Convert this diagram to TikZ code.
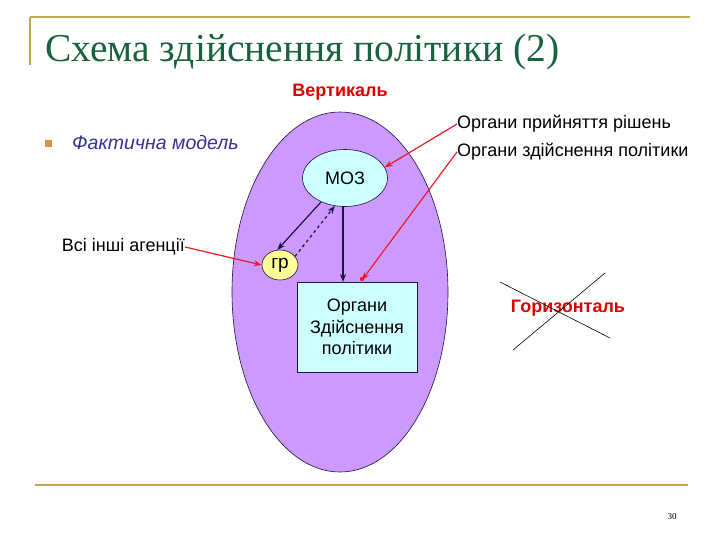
\documentclass[tikz,border=0pt]{standalone}
\usepackage{fontspec}
\setmainfont{Liberation Serif}
\setsansfont{Liberation Sans}
\usetikzlibrary{arrows.meta,shapes.geometric}
\definecolor{titlegreen}{RGB}{24,98,62}
\definecolor{goldline}{RGB}{196,168,80}
\definecolor{bigpurple}{RGB}{204,153,255}
\definecolor{lightcyan}{RGB}{204,255,255}
\definecolor{lightyellow}{RGB}{255,255,153}
\definecolor{labelred}{RGB}{220,0,0}
\definecolor{arrowred}{RGB}{230,30,40}
\definecolor{darkblue}{RGB}{51,51,153}
\definecolor{bulletorange}{RGB}{214,150,60}
\definecolor{darkarrow}{RGB}{30,20,60}
\tikzset{
  lbl/.style={font=\sffamily\fontsize{18}{20}\selectfont, inner sep=0pt, anchor=west},
  redlbl/.style={font=\sffamily\bfseries\fontsize{18}{20}\selectfont, text=labelred, inner sep=0pt},
  redarrow/.style={draw=arrowred, line width=1.2pt, -{Stealth[length=8pt,width=6pt]}},
  darkarr/.style={draw=darkarrow, line width=1.2pt, -{Stealth[length=8pt,width=6pt]}},
}
\begin{document}
\begin{tikzpicture}[x=1pt,y=-1pt]
\useasboundingbox (0,0) rectangle (720,540);
% frame lines
\draw[goldline, line width=1.2pt] (30,17) -- (690,17);
\draw[goldline, line width=1.2pt] (30,17) -- (30,65);
\draw[goldline, line width=2.5pt] (35,485) -- (688,485);
% title
\node[anchor=base west, inner sep=0pt, text=titlegreen, font=\fontsize{39.5}{44}\selectfont] (title) at (45,62) {Схема здійснення політики (2)};
% page number
\node[font=\fontsize{9}{10}\selectfont, inner sep=0pt] (pg) at (672,517) {30};
% vertical label
\node[redlbl] (vert) at (340,92) {Вертикаль};
% big ellipse
\node[ellipse, draw=darkarrow, line width=0.6pt, fill=bigpurple, minimum width=216pt, minimum height=360pt, inner sep=0pt] (big) at (340,292) {};
% bullet
\node[fill=bulletorange, minimum size=7pt, inner sep=0pt] (bul) at (48,144) {};
\node[lbl, text=darkblue, font=\sffamily\itshape\fontsize{19.5}{22}\selectfont] (fact) at (72,143) {Фактична модель};
% right labels
\node[lbl] (prin) at (457,124) {Органи прийняття рішень};
\node[lbl] (zdis) at (457,152) {Органи здійснення політики};
% MOZ
\node[ellipse, draw=darkarrow, line width=0.6pt, fill=lightcyan, minimum width=85pt, minimum height=57pt, inner sep=0pt, font=\sffamily\fontsize{18}{20}\selectfont] (moz) at (345,178) {МОЗ};
% gr
\node[ellipse, draw=darkarrow, line width=0.6pt, fill=lightyellow, minimum width=36pt, minimum height=30pt, inner sep=0pt, font=\sffamily\fontsize{19}{20}\selectfont] (gr) at (280,265) {гр};
% box
\node[draw=darkarrow, line width=0.6pt, fill=lightcyan, minimum width=120pt, minimum height=90pt, inner sep=0pt, align=center, font=\sffamily\fontsize{18}{21.5}\selectfont] (box) at (357,327) {Органи\\Здійснення\\політики};
% other agencies
\node[lbl, anchor=east] (agen) at (185,247) {Всі інші агенції};
% horizontal
\node[redlbl] (hor) at (568,308) {Горизонталь};
\coordinate (c1a) at (500,282);
\coordinate (c1b) at (610,338);
\coordinate (c2a) at (513,350);
\coordinate (c2b) at (605,273);
\draw[black, line width=0.6pt] (c1a) -- (c1b);
\draw[black, line width=0.6pt] (c2a) -- (c2b);
% dark arrows
\draw[darkarr] (moz.225) -- (gr.100);
\draw[darkarr, dashed] (gr.30) -- (moz.250);
\draw[darkarr] (343,206.5) -- (343,282);
% red arrows
\draw[redarrow] (prin.west) -- (moz.15);
\draw[redarrow] (zdis.west) -- (362,280);
\fill[arrowred] (362,279) circle (2.2pt);
\draw[redarrow] (agen.east) -- (gr.west);
\end{tikzpicture}
\end{document}
